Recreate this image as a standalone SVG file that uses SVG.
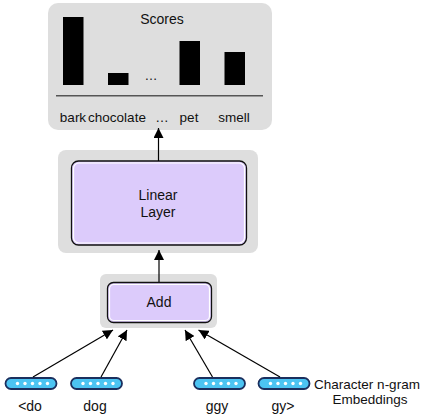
<svg xmlns="http://www.w3.org/2000/svg" width="428" height="416" viewBox="0 0 428 416">
<defs>
<style>
.panel{fill:#dedede;}
.box{fill:#dccbfb;stroke:#111;stroke-width:1.3;}
.boxin{fill:none;stroke:#fff;stroke-width:1.2;}
.t{font-family:"Liberation Sans",Arial,sans-serif;fill:#111;text-anchor:middle;}
.bar{fill:#000;}
.conn{stroke:#000;stroke-width:1.2;fill:none;marker-end:url(#ah);}
.pill{fill:#4cc4f2;stroke:#1b2f5e;stroke-width:1.8;}
.dot{fill:#fff;}
</style>
<marker id="ah" markerWidth="10" markerHeight="10" viewBox="0 0 10 10" refX="10" refY="5" orient="auto" markerUnits="userSpaceOnUse">
<path d="M0,0 L10,5 L0,10 z" fill="#000"/>
</marker>
<g id="pillshape">
<rect class="pill" x="0" y="0" width="51" height="11" rx="5.5"/>
<circle class="dot" cx="12" cy="5.5" r="1.7"/>
<circle class="dot" cx="19.5" cy="5.5" r="1.7"/>
<circle class="dot" cx="27" cy="5.5" r="1.7"/>
<circle class="dot" cx="34.5" cy="5.5" r="1.7"/>
<circle class="dot" cx="42" cy="5.5" r="1.7"/>
</g>
</defs>
<rect width="428" height="416" fill="#fff"/>

<g id="scores">
<rect class="panel" x="48" y="3" width="224" height="127" rx="10"/>
<text class="t" x="162" y="24" font-size="14">Scores</text>
<rect class="bar" x="63" y="17" width="20.5" height="68"/>
<rect class="bar" x="108" y="73" width="20.5" height="12"/>
<rect class="bar" x="179.5" y="41" width="20.5" height="44"/>
<rect class="bar" x="224.5" y="52" width="20.5" height="33"/>
<text class="t" x="151" y="80" font-size="13">…</text>
<line x1="56" y1="95.7" x2="263" y2="95.7" stroke="#555" stroke-width="1.6"/>
<text class="t" x="73" y="122" font-size="13.5">bark</text>
<text class="t" x="117" y="122" font-size="13.5">chocolate</text>
<text class="t" x="162" y="122" font-size="13.5">…</text>
<text class="t" x="189" y="122" font-size="13.5">pet</text>
<text class="t" x="234" y="122" font-size="13.5">smell</text>
</g>

<g id="linear">
<rect class="panel" x="58" y="150" width="200" height="103" rx="8"/>
<rect class="box" x="71.5" y="161" width="175" height="84" rx="7"/>
<rect class="boxin" x="73.5" y="163" width="171" height="80" rx="5.5"/>
<text class="t" x="158" y="200" font-size="14">Linear</text>
<text class="t" x="158" y="217" font-size="14">Layer</text>
</g>

<g id="add">
<rect class="panel" x="100" y="274" width="117" height="54" rx="6"/>
<rect class="box" x="107.5" y="282.5" width="104" height="40" rx="6"/>
<rect class="boxin" x="109.5" y="284.5" width="100" height="36" rx="4.5"/>
<text class="t" x="159" y="307" font-size="14">Add</text>
</g>

<g id="emb1">
<use href="#pillshape" x="5.5" y="378"/>
<text class="t" x="30" y="411" font-size="14">&lt;do</text>
</g>
<g id="emb2">
<use href="#pillshape" x="71" y="378"/>
<text class="t" x="95" y="411" font-size="14">dog</text>
</g>
<g id="emb3">
<use href="#pillshape" x="194" y="378"/>
<text class="t" x="217" y="411" font-size="14">ggy</text>
</g>
<g id="emb4">
<use href="#pillshape" x="258.5" y="378"/>
<text class="t" x="283" y="411" font-size="14">gy&gt;</text>
</g>

<g id="caption">
<text class="t" x="367" y="389" font-size="13.5">Character n-gram</text>
<text class="t" x="370" y="404" font-size="13.5">Embeddings</text>
</g>

<g id="connectors">
<line class="conn" x1="158.5" y1="161" x2="158.5" y2="128"/>
<line class="conn" x1="159" y1="282" x2="159" y2="250"/>
<line class="conn" x1="33" y1="377" x2="113" y2="330"/>
<line class="conn" x1="101" y1="377" x2="127" y2="330"/>
<line class="conn" x1="212.5" y1="377" x2="185" y2="330"/>
<line class="conn" x1="280" y1="377" x2="198.5" y2="330"/>
</g>
</svg>
